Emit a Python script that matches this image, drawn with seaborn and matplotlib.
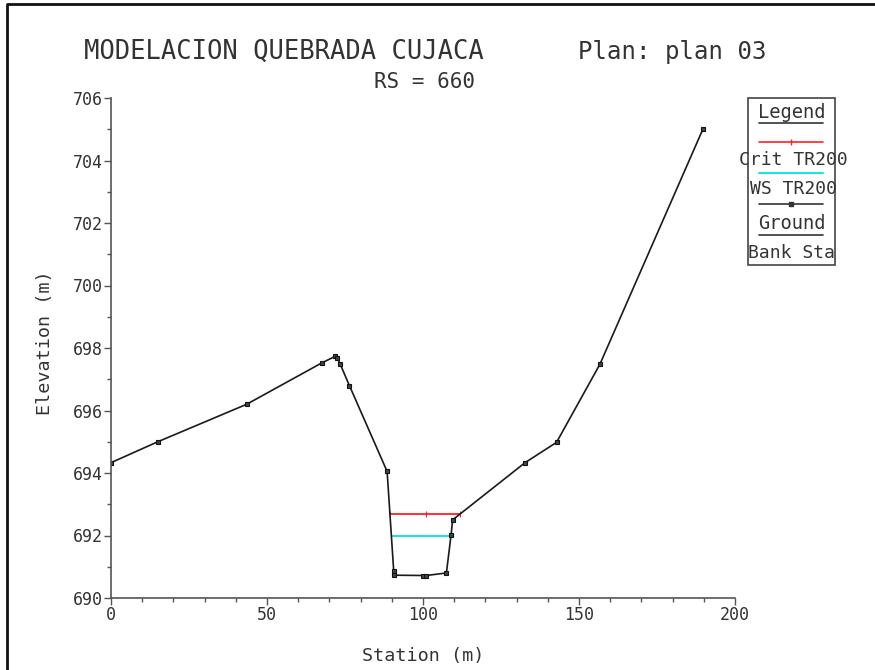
import numpy as np
import pandas as pd
import matplotlib
matplotlib.use("Agg")
import matplotlib.pyplot as plt
import seaborn as sns
from matplotlib.lines import Line2D
from matplotlib.ticker import MultipleLocator

# ======================
# Data (read off the HEC-RAS cross section, RS = 660)
# ======================
ground_station = [0, 15, 43.5, 67.5, 71.8, 72.5, 73.4, 76.4, 88.5, 90.6, 90.6,
                  100.0, 101.0, 107.5, 109.0, 109.5, 132.7, 142.8, 156.7, 189.7]
ground_elev = [694.33, 695.0, 696.2, 697.52, 697.73, 697.68, 697.5, 696.8, 694.05,
               690.88, 690.73, 690.72, 690.72, 690.8, 692.02, 692.5, 694.33, 694.98,
               697.48, 705.0]

crit_station = [89.4, 101.0, 111.9]
crit_elev = [692.7, 692.7, 692.7]

ws_station = [90.2, 109.0]
ws_elev = [692.0, 692.0]

legend_labels = ["Crit TR200", "WS TR200", "Ground", "Bank Sta"]

ground = pd.DataFrame({"station": ground_station, "elev": ground_elev})
crit = pd.DataFrame({"station": crit_station, "elev": crit_elev})
ws = pd.DataFrame({"station": ws_station, "elev": ws_elev})

# ======================
# Figure
# ======================
sns.set_style("white")
plt.rcParams['font.family'] = ['DejaVu Sans Mono', 'DejaVu Sans']
W, H = 875, 670
fig = plt.figure(figsize=(W / 100, H / 100), dpi=100)
ax = fig.add_axes([111 / W, 1 - 598 / H, (735 - 111) / W, (598 - 98) / H])

sns.lineplot(data=crit, x="station", y="elev", sort=False, estimator=None,
             color="#ff2020", lw=1.3, marker="|", markersize=4,
             markeredgecolor="#ff2020", ax=ax)
sns.lineplot(data=ws, x="station", y="elev", sort=False, estimator=None,
             color="#20e0e8", lw=1.5, ax=ax)
sns.lineplot(data=ground, x="station", y="elev", sort=False, estimator=None,
             color="#1a1a1a", lw=1.2, marker="s", markersize=3.5,
             markerfacecolor="#444444", markeredgecolor="#111111",
             markeredgewidth=0.8, ax=ax)

ax.set_xlim(0, 200)
ax.set_ylim(690, 706)
ax.xaxis.set_major_locator(MultipleLocator(50))
ax.xaxis.set_minor_locator(MultipleLocator(10))
ax.yaxis.set_major_locator(MultipleLocator(2))
ax.yaxis.set_minor_locator(MultipleLocator(1))
for s in ["top", "right"]:
    ax.spines[s].set_visible(False)
for s in ["left", "bottom"]:
    ax.spines[s].set_color("#555555")
    ax.spines[s].set_linewidth(1.2)
ax.tick_params(which="both", direction="out", color="#555555", width=1.0,
               labelsize=12, labelcolor="#333333", left=True, bottom=True)
ax.tick_params(which="major", length=5, pad=1)
ax.tick_params(which="minor", length=3)
ax.set_xlabel("")
ax.set_ylabel("")


def fx(px):
    return px / W


def fy(py):
    return 1 - py / H


txt = dict(color="#333333", ha="center", va="center")
fig.text(fx(423), fy(656), "Station (m)", fontsize=13.2, **txt)
fig.text(fx(45), fy(343), "Elevation (m)", fontsize=13.2, rotation=90, **txt)
fig.text(fx(284), fy(52), "MODELACION QUEBRADA CUJACA", fontsize=18.4, **txt)
fig.text(fx(672), fy(52), "Plan: plan 03", fontsize=17.3, **txt)
fig.text(fx(425), fy(82), "RS = 660", fontsize=15, **txt)

# legend box drawn the HEC-RAS way
fig.add_artist(plt.Rectangle((fx(748), fy(265)), fx(835) - fx(748), fy(98) - fy(265),
                             fill=False, edgecolor="#444444", lw=1.2,
                             transform=fig.transFigure))
fig.text(fx(792), fy(113), "Legend", fontsize=13.5, **txt)
fig.add_artist(Line2D([fx(759), fx(823)], [fy(123), fy(123)], color="#333333", lw=1.2))
fig.add_artist(Line2D([fx(759), fx(791), fx(823)], [fy(142)] * 3, color="#ff2020",
                      lw=1.2, marker="|", markersize=4, markevery=[1]))
fig.text(fx(793), fy(160), legend_labels[0], fontsize=13, **txt)
fig.add_artist(Line2D([fx(759), fx(823)], [fy(173), fy(173)], color="#20e0e8", lw=1.5))
fig.text(fx(793), fy(189), legend_labels[1], fontsize=13, **txt)
fig.add_artist(Line2D([fx(759), fx(791), fx(823)], [fy(204)] * 3, color="#333333",
                      lw=1.2, marker="s", markersize=3.5, markevery=[1]))
fig.text(fx(792), fy(223), legend_labels[2], fontsize=13.5, **txt)
fig.add_artist(Line2D([fx(759), fx(823)], [fy(235), fy(235)], color="#333333", lw=1.2))
fig.text(fx(792), fy(253), legend_labels[3], fontsize=13, **txt)

# screenshot frame (top and left edges)
fig.add_artist(Line2D([fx(7), fx(7), 1], [0, fy(4), fy(4)], color="#111111", lw=2))

fig.savefig("out.png", dpi=100)
